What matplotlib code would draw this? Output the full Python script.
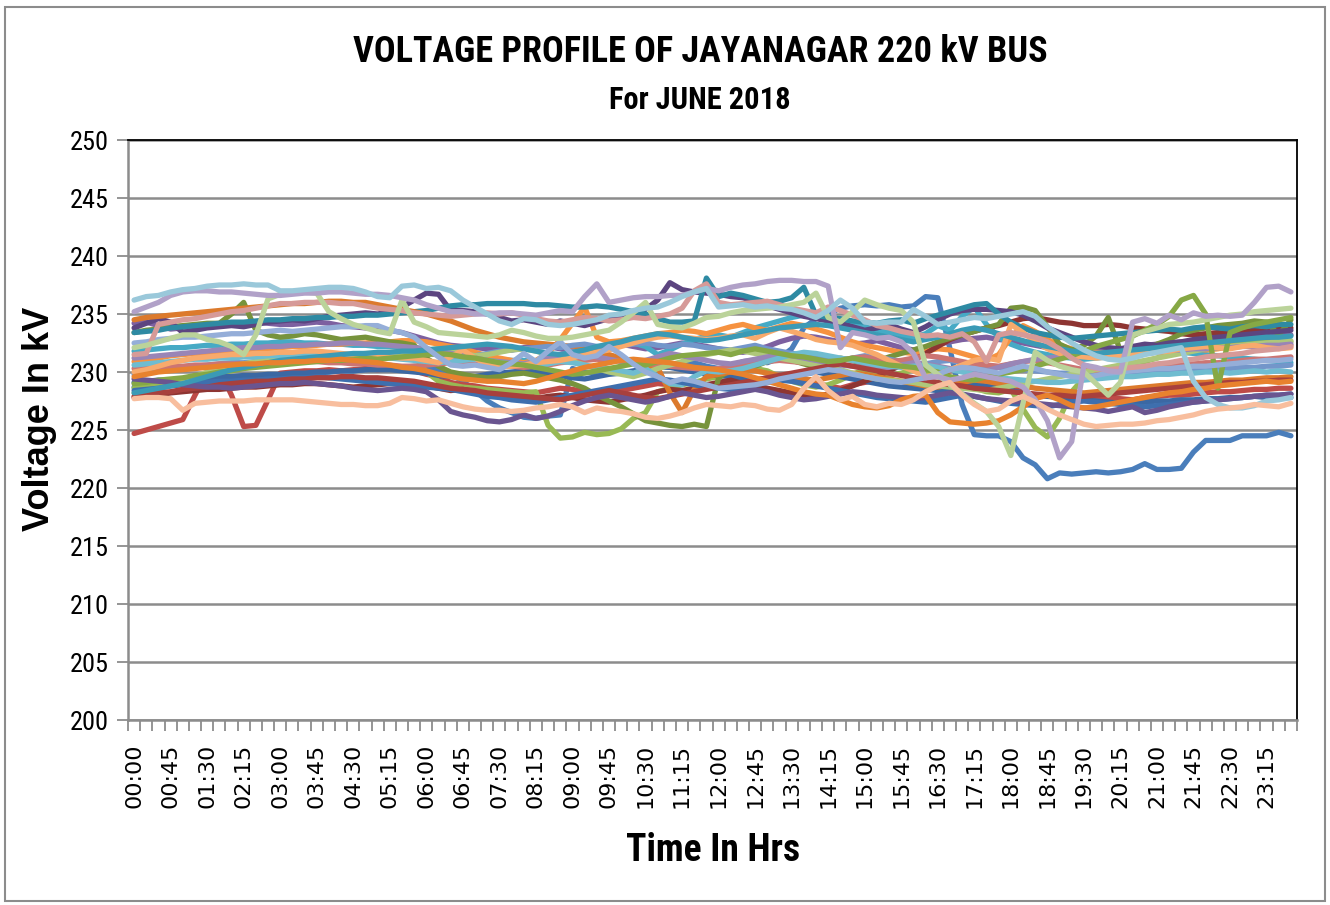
import matplotlib
matplotlib.use("Agg")
import matplotlib.pyplot as plt
from matplotlib import font_manager as fm
from matplotlib.patches import Rectangle
import numpy as np

# 96 quarter-hour slots, one line per day of June 2018 (kV)
times = [f"{h:02d}:{m:02d}" for h in range(24) for m in (0, 15, 30, 45)]

jun01 = [228.7, 228.8, 228.9, 229.0, 229.0, 229.1, 229.2, 229.3, 229.3, 229.4, 229.3, 229.4, 229.6, 229.7, 229.8, 229.9,
         230.0, 230.1, 230.1, 230.2, 230.3, 230.3, 230.4, 230.5, 230.5, 230.2, 229.8, 229.2, 228.4, 227.5, 226.9, 226.5,
         226.1, 226.0, 226.2, 226.3, 230.3, 230.0, 229.9, 230.1, 230.0, 229.8, 230.2, 230.5, 230.4, 230.6, 230.8, 230.5,
         230.3, 230.5, 230.9, 231.0, 230.8, 231.2, 232.0, 233.8, 234.6, 235.0, 235.5, 235.7, 235.8, 235.7, 235.8, 235.6,
         235.7, 236.5, 236.4, 232.0, 227.2, 224.6, 224.5, 224.5, 224.0, 222.6, 222.0, 220.8, 221.3, 221.2, 221.3, 221.4,
         221.3, 221.4, 221.6, 222.1, 221.6, 221.6, 221.7, 223.1, 224.1, 224.1, 224.1, 224.5, 224.5, 224.5, 224.8, 224.5]
jun02 = [224.7, 225.0, 225.3, 225.6, 225.9, 228.0, 230.0, 230.2, 228.0, 225.3, 225.4, 227.6, 229.9, 230.0, 230.1, 230.1,
         230.2, 230.1, 230.2, 230.3, 230.2, 230.3, 230.3, 230.1, 229.8, 229.6, 229.1, 228.9, 228.8, 228.6, 228.5, 228.4,
         228.3, 228.2, 228.4, 228.6, 228.5, 228.3, 228.1, 228.2, 228.4, 228.6, 228.8, 229.0, 228.9, 229.1, 229.0, 228.8,
         228.9, 229.2, 229.4, 229.3, 229.5, 229.7, 229.4, 229.2, 229.0, 228.8, 228.6, 228.9, 229.1, 229.3, 229.0, 228.8,
         229.0, 229.4, 229.8, 230.1, 230.3, 229.9, 229.5, 229.2, 228.7, 228.3, 228.0, 227.9, 228.1, 228.0, 227.9, 227.8,
         227.8, 227.7, 227.6, 227.8, 227.9, 228.0, 228.0, 228.1, 228.2, 228.3, 228.3, 228.4, 228.5, 228.5, 228.6, 228.6]
jun03 = [228.6, 228.8, 229.0, 229.2, 229.3, 229.6, 229.9, 230.1, 230.4, 230.6, 230.7, 230.8, 230.9, 231.0, 231.1, 231.2,
         231.3, 231.3, 231.4, 231.5, 231.5, 231.6, 231.5, 231.4, 230.0, 229.2, 228.9, 228.7, 228.6, 228.5, 228.4, 228.3,
         228.2, 228.3, 225.4, 224.3, 224.4, 224.8, 224.6, 224.7, 225.1, 226.0, 226.5, 228.3, 228.6, 228.9, 229.1, 229.4,
         229.6, 229.8, 229.9, 230.3, 230.1, 229.6, 229.2, 228.9, 228.7, 228.9, 229.3, 229.8, 230.2, 230.0, 229.7, 229.9,
         230.2, 229.9, 229.6, 229.2, 229.0, 228.6, 228.3, 228.2, 228.5, 226.8, 225.2, 224.4, 226.0, 228.3, 229.5, 229.8,
         230.0, 230.2, 230.5, 230.9, 231.2, 231.6, 232.0, 232.2, 232.4, 232.5, 232.6, 232.7, 232.8, 232.7, 232.8, 232.6]
jun04 = [234.2, 234.3, 234.0, 233.7, 233.8, 233.9, 234.0, 234.1, 234.2, 234.2, 234.3, 234.2, 234.1, 234.1, 234.2, 234.3,
         234.2, 234.0, 233.9, 233.8, 233.7, 233.6, 233.4, 233.1, 232.8, 232.5, 232.3, 232.2, 232.1, 232.0, 232.0, 231.9,
         232.1, 232.3, 232.2, 232.0, 231.8, 231.9, 232.1, 232.3, 232.4, 232.2, 232.0, 232.1, 232.3, 232.5, 232.4, 232.2,
         232.0, 231.8, 231.7, 231.9, 232.2, 232.6, 232.9, 233.1, 233.0, 232.8, 232.6, 232.4, 232.5, 232.7, 232.4, 232.1,
         231.9, 232.1, 232.4, 232.6, 232.8, 232.9, 233.0, 232.8, 232.7, 232.5, 232.3, 232.1, 231.9, 231.7, 231.6, 231.8,
         231.9, 232.0, 232.1, 232.3, 232.4, 232.5, 232.6, 232.6, 232.7, 232.8, 232.8, 232.9, 233.0, 233.0, 233.1, 233.2]
jun05 = [231.8, 231.9, 232.0, 232.1, 232.1, 232.2, 232.3, 232.3, 232.4, 232.4, 232.5, 232.5, 232.6, 232.6, 232.5, 232.5,
         232.4, 232.4, 232.3, 232.3, 232.2, 232.2, 232.1, 232.1, 232.0, 231.8, 231.6, 231.5, 231.3, 231.2, 231.1, 231.0,
         231.0, 230.9, 231.1, 231.3, 231.5, 231.7, 231.9, 232.1, 232.3, 232.5, 232.2, 231.5, 231.9, 232.4, 232.8, 233.1,
         233.2, 233.0, 233.4, 233.8, 234.1, 234.4, 234.7, 234.9, 235.0, 234.8, 234.5, 234.2, 233.9, 233.6, 233.4, 233.2,
         233.0, 233.3, 234.0, 233.6, 234.8, 235.6, 234.1, 233.0, 232.4, 232.0, 231.7, 231.5, 231.3, 231.2, 231.1, 231.2,
         231.3, 231.4, 231.5, 231.6, 231.7, 231.8, 231.7, 231.6, 231.5, 231.4, 231.3, 231.2, 231.1, 231.0, 230.9, 230.8]
jun06 = [230.9, 231.0, 231.2, 231.4, 231.5, 231.6, 231.6, 231.7, 231.8, 231.9, 232.0, 232.0, 232.1, 232.2, 232.2, 232.3,
         232.4, 232.4, 232.5, 232.5, 232.6, 232.6, 232.7, 232.7, 232.6, 232.4, 232.2, 232.0, 231.7, 231.4, 231.2, 231.0,
         230.8, 231.0, 231.6, 232.8, 234.2, 235.6, 233.0, 232.6, 232.7, 232.9, 233.1, 233.3, 233.4, 233.6, 233.5, 233.3,
         233.6, 233.9, 234.1, 233.8, 233.6, 233.9, 234.2, 234.0, 233.7, 233.4, 233.0, 232.6, 232.3, 232.1, 231.9, 231.7,
         231.6, 231.8, 232.0, 231.9, 231.6, 231.3, 231.0, 231.5, 233.0, 234.0, 233.5, 232.8, 232.3, 232.0, 231.8, 231.7,
         231.6, 231.6, 231.7, 231.8, 231.9, 232.0, 232.1, 232.0, 231.9, 232.0, 232.2, 232.3, 232.2, 232.0, 232.1, 232.3]
jun07 = [229.1, 229.2, 229.3, 229.3, 229.4, 229.5, 229.5, 229.6, 229.6, 229.7, 229.7, 229.8, 229.8, 229.9, 229.9, 230.0,
         230.0, 230.1, 230.1, 230.2, 230.2, 230.2, 230.1, 230.0, 229.9, 229.7, 229.6, 229.5, 229.6, 229.8, 229.9, 230.0,
         230.1, 230.0, 229.8, 229.7, 229.5, 229.4, 229.6, 229.8, 229.9, 230.1, 230.3, 230.5, 230.4, 230.2, 230.0, 229.8,
         229.7, 229.6, 229.4, 229.3, 229.2, 229.4, 229.6, 229.8, 230.0, 229.8, 229.6, 229.4, 229.2, 229.0, 228.8, 228.7,
         228.6, 228.5, 228.4, 228.5, 228.7, 228.9, 228.8, 228.6, 228.4, 228.2, 228.0, 227.9, 227.8, 227.7, 227.6, 227.5,
         227.4, 227.3, 227.3, 227.4, 227.5, 227.5, 227.6, 227.6, 227.7, 227.7, 227.8, 227.8, 227.9, 227.8, 227.8, 227.8]
jun08 = [227.8, 227.9, 228.0, 228.2, 228.3, 228.4, 228.5, 228.5, 228.6, 228.7, 228.7, 228.8, 228.9, 228.9, 229.0, 229.0,
         228.9, 228.8, 228.7, 228.8, 228.9, 229.0, 229.1, 229.0, 228.8, 228.6, 228.4, 228.5, 228.3, 228.1, 228.0, 227.9,
         227.8, 227.7, 227.9, 228.0, 227.8, 227.6, 227.5, 227.4, 227.6, 227.8, 228.0, 228.3, 228.5, 228.4, 228.6, 228.9,
         229.1, 229.3, 229.0, 228.8, 228.6, 228.4, 228.2, 228.0, 227.9, 228.1, 228.4, 228.8, 229.2, 229.6, 230.1, 230.6,
         231.0, 231.6, 232.2, 232.8, 233.2, 233.5, 233.8, 234.0, 234.3, 234.6, 234.7, 234.5, 234.3, 234.2, 234.0, 234.0,
         234.1, 234.0, 233.8, 233.7, 233.6, 233.5, 233.3, 233.2, 233.3, 233.4, 233.3, 233.5, 233.6, 233.5, 233.7, 233.8]
jun09 = [233.4, 233.6, 233.7, 233.9, 234.0, 234.1, 234.2, 234.2, 235.0, 236.0, 233.6, 233.2, 233.0, 233.1, 233.3, 233.2,
         233.0, 232.8, 232.9, 233.0, 232.8, 232.6, 232.5, 232.3, 231.2, 230.5, 230.0, 229.8, 229.6, 229.5, 229.6, 229.8,
         229.9, 229.7, 229.5, 229.3, 229.0, 228.6, 228.0, 227.5, 227.0, 226.4, 225.8, 225.6, 225.4, 225.3, 225.5, 225.3,
         229.5, 230.2, 230.6, 230.5, 230.9, 231.3, 231.0, 230.7, 230.4, 230.8, 231.2, 231.0, 230.6, 230.9, 231.3, 231.6,
         231.9, 232.2, 232.6, 232.9, 233.2, 233.5, 233.8, 234.1, 235.5, 235.6, 235.3, 233.9, 232.4, 231.9, 232.3, 233.1,
         234.7, 231.8, 231.5, 231.9, 232.4, 232.8, 233.3, 233.6, 233.8, 234.0, 234.1, 234.2, 234.4, 234.3, 233.2, 234.5]
jun10 = [233.8, 234.2, 234.6, 234.3, 233.4, 233.6, 233.8, 233.9, 234.0, 233.9, 234.1, 234.3, 234.4, 234.5, 234.4, 234.6,
         234.8, 234.9, 235.0, 235.1, 235.0, 235.2, 235.6, 236.2, 236.8, 236.7, 235.3, 235.3, 235.2, 235.0, 234.7, 234.4,
         234.5, 234.3, 234.1, 234.4, 234.2, 234.0, 234.3, 234.6, 234.8, 235.1, 235.4, 236.2, 237.7, 237.1, 236.9, 236.8,
         236.7, 236.5, 236.4, 236.1, 235.7, 235.4, 235.1, 234.8, 234.6, 234.4, 234.2, 233.9, 233.6, 233.8, 234.1, 233.7,
         233.4, 233.9, 234.5, 235.0, 235.3, 235.4, 235.4, 235.3, 235.2, 234.9, 234.4, 233.8, 233.4, 233.0, 232.6, 232.3,
         232.1, 232.0, 232.2, 232.4, 232.3, 232.5, 232.6, 232.8, 232.9, 233.0, 233.1, 233.2, 233.3, 233.4, 233.5, 233.6]
jun11 = [233.4, 233.5, 233.6, 233.8, 233.9, 234.0, 234.1, 234.2, 234.3, 234.3, 234.4, 234.5, 234.5, 234.6, 234.6, 234.7,
         234.7, 234.8, 234.8, 234.9, 234.9, 235.0, 235.1, 235.2, 235.3, 235.5, 235.7, 235.8, 235.8, 235.9, 235.9, 235.9,
         235.9, 235.8, 235.8, 235.7, 235.6, 235.6, 235.7, 235.6, 235.4, 235.2, 235.0, 234.6, 234.3, 234.3, 234.4, 238.1,
         236.5, 236.8, 236.6, 236.3, 236.0, 236.1, 236.4, 237.3, 234.9, 234.7, 234.6, 234.4, 234.3, 234.2, 234.4, 234.5,
         234.2, 234.6, 234.9, 235.2, 235.5, 235.8, 235.9, 235.0, 234.3, 233.8, 233.4, 233.2, 233.0, 232.9, 233.0, 233.1,
         233.2, 233.3, 233.4, 233.5, 233.6, 233.7, 233.6, 233.8, 233.9, 233.8, 233.7, 233.9, 234.0, 233.9, 234.1, 234.1]
jun12 = [234.5, 234.7, 234.8, 234.9, 235.0, 235.1, 235.2, 235.3, 235.4, 235.5, 235.6, 235.7, 235.8, 235.9, 235.9, 236.0,
         236.1, 236.1, 236.0, 236.0, 235.8, 235.6, 235.4, 235.2, 235.0, 234.7, 234.4, 234.0, 233.6, 233.3, 233.0, 232.8,
         232.6, 232.5, 232.4, 232.3, 232.2, 232.0, 231.7, 231.5, 231.2, 230.9, 230.6, 230.4, 228.2, 226.5, 228.5, 229.6,
         229.8, 230.0, 230.2, 230.1, 229.9, 229.7, 229.5, 229.4, 229.3, 229.5, 229.7, 229.9, 229.8, 229.6, 229.4, 229.2,
         229.0, 228.8, 228.7, 228.9, 229.1, 229.3, 229.2, 229.0, 228.9, 228.8, 228.6, 228.5, 228.4, 228.3, 228.2, 228.3,
         228.4, 228.5, 228.6, 228.7, 228.8, 228.9, 229.0, 229.1, 229.1, 229.2, 229.3, 229.3, 229.4, 229.5, 229.5, 229.6]
jun13 = [229.8, 229.9, 230.1, 230.2, 230.4, 230.5, 230.6, 230.7, 230.8, 230.8, 230.9, 231.0, 231.0, 231.1, 231.2, 231.2,
         231.3, 231.3, 231.4, 231.4, 231.5, 231.5, 231.4, 231.5, 231.6, 231.5, 231.3, 231.2, 231.4, 231.6, 231.8, 231.9,
         232.0, 232.1, 232.2, 232.1, 232.3, 232.4, 232.2, 232.1, 232.3, 232.4, 232.5, 232.3, 232.2, 232.4, 232.3, 232.1,
         232.0, 231.9, 232.1, 232.3, 232.0, 231.8, 231.6, 231.5, 231.3, 231.2, 231.0, 231.2, 231.4, 231.3, 231.1, 230.9,
         230.8, 230.7, 230.9, 231.0, 230.8, 230.6, 230.5, 230.4, 230.3, 230.2, 230.1, 230.0, 229.9, 229.9, 230.0, 230.0,
         229.9, 229.8, 229.9, 230.0, 230.0, 230.1, 230.1, 230.2, 230.2, 230.3, 230.3, 230.4, 230.4, 230.5, 230.5, 230.6]
jun14 = [230.3, 230.4, 230.4, 230.5, 230.5, 230.6, 230.6, 230.7, 230.7, 230.7, 230.8, 230.8, 230.8, 230.9, 230.9, 230.9,
         230.8, 230.8, 230.7, 230.7, 230.6, 230.6, 230.5, 230.5, 230.6, 230.7, 230.8, 230.9, 230.8, 230.7, 230.6, 230.5,
         230.4, 230.5, 230.6, 230.8, 230.9, 231.0, 231.1, 231.0, 231.0, 230.9, 230.8, 230.6, 230.5, 230.4, 230.3, 230.2,
         230.3, 230.4, 230.5, 230.7, 230.9, 231.0, 230.9, 230.8, 230.7, 230.8, 231.0, 231.2, 231.3, 231.1, 230.9, 231.0,
         231.2, 231.4, 231.3, 231.1, 230.9, 230.7, 230.6, 230.5, 230.7, 230.9, 231.0, 230.8, 230.6, 230.4, 230.2, 230.1,
         230.0, 230.1, 230.2, 230.3, 230.4, 230.5, 230.6, 230.7, 230.8, 230.8, 230.9, 231.0, 231.1, 231.1, 231.2, 231.3]
jun15 = [228.2, 228.4, 228.6, 228.9, 229.2, 229.6, 230.0, 230.3, 230.5, 230.7, 230.9, 231.0, 231.1, 231.2, 231.3, 231.3,
         231.4, 231.5, 231.5, 231.6, 231.6, 231.7, 231.7, 231.8, 231.9, 232.0, 231.8, 231.6, 231.4, 231.5, 231.7, 231.9,
         232.0, 231.8, 231.5, 231.2, 230.9, 230.6, 230.3, 230.0, 229.8, 229.6, 229.9, 230.3, 230.6, 230.9, 231.2, 231.5,
         231.7, 231.9, 231.8, 231.6, 231.4, 231.2, 231.0, 230.8, 230.6, 230.4, 230.2, 229.9, 229.6, 229.4, 229.3, 229.2,
         229.1, 228.9, 228.8, 228.7, 228.6, 228.5, 228.4, 228.6, 228.8, 229.0, 229.2, 229.4, 229.6, 229.8, 230.0, 230.2,
         230.4, 230.6, 230.8, 231.0, 231.2, 231.4, 231.6, 231.8, 232.0, 232.1, 232.2, 232.3, 232.4, 232.5, 232.6, 232.7]
jun16 = [231.2, 231.3, 231.4, 231.5, 231.6, 231.7, 231.8, 231.9, 232.0, 232.1, 232.1, 232.2, 232.2, 232.3, 232.3, 232.4,
         232.4, 232.5, 232.5, 232.4, 232.4, 232.3, 232.2, 232.1, 232.0, 231.8, 231.6, 231.4, 231.2, 231.0, 230.9, 230.8,
         230.7, 230.9, 231.2, 231.5, 231.8, 231.6, 231.3, 231.1, 230.9, 230.8, 231.0, 231.3, 231.6, 231.4, 231.2, 231.0,
         230.8, 230.7, 230.9, 231.1, 231.3, 231.5, 231.4, 231.2, 231.0, 230.8, 230.6, 230.5, 230.4, 230.3, 230.4, 230.6,
         230.8, 230.7, 230.5, 230.3, 230.1, 229.9, 230.1, 230.4, 230.7, 230.9, 231.1, 231.2, 231.3, 231.4, 231.5, 231.6,
         231.6, 231.7, 231.7, 231.8, 231.8, 231.9, 231.9, 232.0, 232.0, 232.1, 232.1, 232.2, 232.2, 232.3, 232.3, 232.4]
jun17 = [230.6, 230.7, 230.8, 230.9, 231.0, 231.1, 231.1, 231.2, 231.2, 231.3, 231.3, 231.4, 231.4, 231.4, 231.5, 231.5,
         231.4, 231.4, 231.3, 231.3, 231.2, 231.2, 231.1, 231.0, 230.9, 230.8, 230.9, 231.0, 231.1, 231.0, 230.8, 230.7,
         230.6, 230.5, 230.7, 230.9, 230.8, 230.6, 230.4, 230.3, 230.1, 229.9, 230.3, 229.6, 229.0, 228.9, 229.6, 230.1,
         230.0, 230.1, 230.3, 230.6, 230.9, 231.2, 231.5, 231.7, 231.6, 231.4, 231.2, 231.0, 230.8, 230.6, 230.5, 230.4,
         230.5, 230.6, 230.4, 230.2, 230.0, 229.8, 229.6, 229.5, 229.4, 229.3, 229.2, 229.1, 229.1, 229.2, 229.3, 229.4,
         229.5, 229.6, 229.6, 229.7, 229.8, 229.8, 229.9, 229.9, 230.0, 230.0, 229.9, 230.0, 230.1, 230.0, 230.1, 230.0]
jun18 = [230.0, 230.2, 230.5, 230.8, 231.0, 231.2, 231.3, 231.4, 231.5, 231.5, 231.6, 231.6, 231.7, 231.7, 231.8, 231.8,
         231.7, 231.6, 231.5, 231.4, 231.4, 231.3, 231.2, 231.2, 231.0, 230.8, 231.3, 231.9, 231.2, 230.6, 230.4, 230.5,
         230.6, 230.8, 230.9, 231.0, 231.2, 231.5, 231.7, 231.9, 232.2, 232.5, 232.8, 233.0, 233.1, 233.0, 232.9, 232.8,
         232.9, 233.1, 233.2, 232.9, 233.4, 233.8, 233.5, 233.2, 232.8, 232.6, 232.5, 232.3, 231.9, 231.5, 231.0, 230.5,
         230.1, 229.6, 229.8, 230.2, 230.6, 231.0, 231.2, 231.0, 234.1, 233.4, 232.6, 232.0, 231.6, 231.4, 231.3, 231.2,
         231.3, 231.4, 231.5, 231.6, 231.7, 231.8, 232.0, 232.1, 232.2, 232.1, 232.0, 232.2, 232.3, 232.1, 232.0, 232.1]
jun19 = [228.4, 228.5, 228.6, 228.8, 228.9, 229.0, 229.1, 229.2, 229.2, 229.3, 229.3, 229.4, 229.4, 229.5, 229.5, 229.6,
         229.5, 229.4, 229.3, 229.2, 229.1, 229.0, 228.9, 228.8, 228.7, 228.6, 228.5, 228.3, 228.1, 227.9, 227.8, 227.6,
         227.5, 227.4, 227.6, 227.8, 228.0, 228.2, 228.4, 228.6, 228.8, 229.0, 229.2, 229.4, 229.3, 229.1, 228.9, 228.7,
         228.6, 228.5, 228.7, 228.9, 229.1, 229.3, 229.2, 229.0, 228.8, 228.6, 228.4, 228.2, 228.0, 227.8, 227.7, 227.6,
         227.5, 227.4, 227.6, 227.8, 228.0, 227.9, 227.7, 227.5, 227.3, 227.2, 227.1, 227.0, 227.2, 227.4, 227.5, 227.4,
         227.3, 227.2, 227.1, 227.0, 227.1, 227.2, 227.3, 227.4, 227.5, 227.6, 227.7, 227.8, 227.9, 228.0, 228.0, 228.1]
jun20 = [227.9, 228.0, 228.2, 228.3, 228.5, 228.6, 228.7, 228.9, 229.0, 229.1, 229.2, 229.2, 229.3, 229.4, 229.4, 229.5,
         229.5, 229.6, 229.6, 229.5, 229.5, 229.4, 229.3, 229.2, 229.0, 228.8, 228.6, 228.5, 228.4, 228.2, 228.1, 228.0,
         227.9, 227.8, 227.7, 227.6, 227.8, 228.0, 228.2, 228.4, 228.2, 228.0, 227.8, 227.7, 227.9, 228.1, 228.3, 228.5,
         228.7, 228.9, 229.1, 229.3, 229.5, 229.7, 229.9, 230.1, 230.3, 230.5, 230.7, 230.5, 230.3, 230.1, 229.9, 229.7,
         229.5, 229.3, 229.1, 228.9, 228.8, 228.6, 228.5, 228.4, 228.3, 228.2, 228.1, 228.0, 228.0, 227.9, 227.9, 228.0,
         228.1, 228.2, 228.3, 228.4, 228.5, 228.6, 228.7, 228.8, 228.9, 229.0, 229.1, 229.1, 229.2, 229.2, 229.3, 229.3]
jun21 = [229.0, 229.1, 229.3, 229.4, 229.5, 229.7, 229.8, 230.0, 230.1, 230.3, 230.4, 230.5, 230.6, 230.7, 230.8, 230.9,
         231.0, 231.0, 231.1, 231.2, 231.1, 231.2, 231.3, 231.4, 231.5, 231.6, 231.5, 231.3, 231.2, 231.0, 230.8, 230.7,
         230.6, 230.4, 230.2, 230.0, 229.8, 229.9, 230.1, 230.3, 230.5, 230.7, 230.6, 230.9, 231.2, 231.4, 231.5, 231.6,
         231.7, 231.5, 231.8, 232.0, 231.8, 231.6, 231.4, 231.3, 231.1, 230.9, 231.0, 231.2, 231.0, 230.8, 230.6, 230.5,
         230.4, 230.2, 230.0, 229.6, 229.4, 229.3, 229.6, 229.8, 230.0, 230.2, 230.5, 230.8, 231.1, 231.4, 231.8, 232.2,
         232.5, 232.8, 233.1, 233.6, 234.1, 234.8, 236.2, 236.6, 235.0, 228.6, 233.4, 233.8, 234.1, 234.3, 234.5, 234.7]
jun22 = [229.4, 229.3, 229.2, 229.1, 228.9, 228.8, 228.7, 228.7, 228.6, 228.7, 228.8, 228.9, 229.0, 229.0, 229.1, 229.0,
         228.9, 228.8, 228.6, 228.5, 228.4, 228.5, 228.6, 228.5, 228.3, 227.6, 226.6, 226.3, 226.1, 225.8, 225.7, 225.9,
         226.3, 226.0, 226.2, 226.6, 227.1, 227.5, 227.8, 228.0, 227.8, 227.6, 227.4, 227.6, 227.9, 228.2, 228.0, 227.8,
         227.9, 228.1, 228.3, 228.5, 228.3, 228.0, 227.8, 227.6, 227.7, 227.9, 228.1, 228.3, 228.2, 228.0, 227.9, 227.8,
         227.7, 227.8, 228.0, 228.2, 228.1, 227.9, 227.7, 227.6, 227.5, 227.4, 227.3, 227.2, 227.1, 227.0, 226.9, 226.8,
         226.6, 226.8, 227.0, 226.5, 226.7, 227.0, 227.2, 227.4, 227.5, 227.6, 227.7, 227.8, 227.9, 228.0, 228.0, 228.1]
jun23 = [228.2, 228.4, 228.6, 228.8, 229.0, 229.3, 229.6, 229.9, 230.2, 230.4, 230.6, 230.8, 231.0, 231.1, 231.2, 231.3,
         231.4, 231.5, 231.6, 231.6, 231.7, 231.7, 231.8, 231.8, 231.9, 232.0, 232.1, 232.2, 232.3, 232.4, 232.3, 232.2,
         232.0, 231.8, 231.6, 231.5, 231.7, 231.9, 232.2, 232.4, 232.6, 232.9, 233.1, 233.3, 233.2, 233.0, 232.8, 232.7,
         232.8, 233.0, 233.2, 233.4, 233.6, 233.8, 233.9, 234.0, 234.1, 234.0, 233.8, 233.6, 233.4, 233.2, 233.0, 232.8,
         232.6, 232.8, 233.0, 233.3, 233.6, 233.8, 233.6, 233.3, 233.0, 232.7, 232.4, 232.2, 232.0, 231.8, 231.7, 231.6,
         231.7, 231.8, 231.9, 232.0, 232.1, 232.2, 232.3, 232.4, 232.5, 232.6, 232.7, 232.8, 232.9, 233.0, 233.0, 233.1]
jun24 = [229.6, 229.8, 230.0, 230.1, 230.2, 230.3, 230.4, 230.5, 230.6, 230.7, 230.7, 230.8, 230.8, 230.9, 230.9, 231.0,
         231.0, 231.1, 231.0, 230.9, 230.8, 230.6, 230.4, 230.3, 230.1, 229.8, 229.6, 229.4, 229.3, 229.2, 229.2, 229.1,
         229.0, 229.2, 229.5, 229.8, 230.1, 230.4, 230.6, 230.8, 231.0, 231.1, 231.0, 230.9, 230.8, 230.6, 230.4, 230.3,
         230.2, 230.0, 229.8, 229.5, 229.2, 228.9, 228.6, 228.3, 228.1, 228.0, 227.6, 227.2, 227.0, 226.9, 227.1, 227.6,
         227.9, 228.0, 226.5, 225.7, 225.6, 225.5, 225.6, 225.8, 226.3, 227.0, 227.7, 228.0, 227.6, 227.1, 226.9, 227.0,
         227.2, 227.4, 227.6, 227.8, 228.0, 228.2, 228.3, 228.5, 228.6, 228.8, 228.9, 229.0, 229.1, 229.2, 229.1, 229.2]
jun25 = [232.5, 232.6, 232.8, 232.9, 233.0, 233.0, 233.1, 233.2, 233.3, 233.3, 233.4, 233.5, 233.6, 233.5, 233.6, 233.7,
         233.8, 233.9, 233.9, 234.0, 234.0, 233.6, 233.4, 233.0, 232.1, 231.3, 230.6, 230.5, 230.6, 230.4, 230.2, 230.8,
         231.6, 230.9, 231.8, 232.6, 231.5, 231.2, 231.4, 232.2, 231.5, 230.7, 230.0, 229.6, 229.1, 229.4, 229.2, 228.9,
         228.6, 228.7, 228.8, 228.9, 229.1, 229.4, 229.6, 229.8, 230.0, 230.2, 230.1, 229.8, 229.6, 229.4, 229.2, 229.1,
         229.3, 229.5, 229.8, 230.2, 230.4, 230.3, 230.1, 229.9, 230.2, 230.5, 230.3, 230.0, 229.8, 229.6, 229.5, 229.7,
         229.9, 230.0, 230.1, 230.2, 230.3, 230.3, 230.4, 230.5, 230.5, 230.6, 230.7, 230.8, 230.9, 231.0, 231.0, 231.1]
jun26 = [231.5, 231.6, 234.1, 234.3, 234.5, 234.6, 234.8, 235.0, 235.2, 235.3, 235.5, 235.7, 235.9, 235.9, 236.0, 236.0,
         236.0, 235.9, 235.9, 235.7, 235.5, 235.4, 235.3, 235.1, 235.0, 234.9, 234.8, 234.9, 235.0, 235.1, 235.0, 235.1,
         234.9, 234.6, 234.4, 234.3, 234.5, 234.7, 234.6, 234.4, 234.5, 234.7, 234.6, 234.8, 235.0, 235.5, 237.0, 237.6,
         236.0, 235.8, 235.9, 236.0, 236.1, 235.8, 235.5, 235.3, 235.1, 235.6, 235.3, 234.9, 234.5, 234.0, 233.8, 233.5,
         233.3, 233.1, 233.2, 233.0, 233.3, 232.6, 230.9, 233.2, 233.4, 233.2, 233.0, 232.6, 232.0, 231.2, 230.6, 230.3,
         230.2, 230.3, 230.4, 230.5, 230.7, 230.8, 231.0, 231.1, 231.3, 231.4, 231.5, 231.6, 231.8, 231.9, 232.0, 232.2]
jun27 = [232.1, 232.3, 232.6, 232.9, 233.2, 233.2, 232.8, 232.6, 232.2, 231.5, 233.2, 236.3, 236.7, 236.9, 236.9, 236.8,
         235.2, 234.6, 234.1, 233.8, 233.5, 233.3, 236.2, 234.3, 233.9, 233.4, 233.3, 233.2, 233.1, 233.0, 233.2, 233.6,
         233.4, 233.1, 232.9, 232.9, 233.0, 233.2, 233.4, 233.6, 234.3, 235.1, 236.0, 234.1, 233.9, 233.8, 234.2, 234.7,
         234.8, 235.1, 235.3, 235.4, 235.5, 235.6, 235.8, 236.0, 236.8, 234.7, 234.3, 235.2, 236.2, 235.8, 235.5, 235.3,
         234.3, 230.6, 229.8, 228.9, 228.1, 227.3, 226.6, 225.3, 222.8, 227.3, 231.7, 231.0, 230.5, 230.2, 230.0, 229.0,
         228.0, 229.1, 233.2, 233.5, 233.8, 234.1, 234.2, 234.3, 234.5, 234.7, 234.9, 235.0, 235.2, 235.3, 235.4, 235.5]
jun28 = [235.2, 235.6, 236.0, 236.6, 236.9, 237.0, 237.0, 236.9, 236.9, 236.8, 236.7, 236.6, 236.6, 236.7, 236.8, 236.8,
         236.9, 236.9, 236.8, 236.7, 236.7, 236.6, 236.4, 236.2, 235.8, 235.5, 235.2, 235.2, 235.0, 235.0, 235.1, 235.1,
         235.0, 234.9, 235.1, 235.3, 235.2, 236.5, 237.6, 236.0, 236.2, 236.4, 236.5, 236.5, 236.6, 236.6, 236.9, 237.2,
         237.0, 237.3, 237.5, 237.6, 237.8, 237.9, 237.9, 237.8, 237.8, 237.4, 232.1, 233.4, 233.2, 232.9, 233.0, 232.6,
         231.6, 229.5, 229.6, 229.3, 229.5, 229.8, 229.6, 229.4, 229.2, 228.7, 227.6, 225.8, 222.6, 224.0, 230.6, 230.4,
         230.1, 230.0, 234.3, 234.6, 234.2, 234.9, 234.5, 235.1, 234.8, 234.9, 234.8, 234.9, 236.0, 237.3, 237.4, 236.9]
jun29 = [236.2, 236.5, 236.6, 236.9, 237.1, 237.2, 237.4, 237.5, 237.5, 237.6, 237.5, 237.5, 237.0, 237.0, 237.1, 237.2,
         237.3, 237.3, 237.2, 236.9, 236.5, 236.4, 237.4, 237.5, 237.2, 237.3, 237.0, 236.2, 235.6, 235.0, 234.4, 234.1,
         234.6, 234.5, 234.1, 234.0, 234.1, 234.3, 234.5, 234.9, 235.0, 235.3, 235.5, 235.6, 236.0, 236.5, 236.9, 237.2,
         235.6, 235.7, 235.8, 235.6, 235.7, 235.5, 235.4, 235.1, 234.7, 235.3, 236.2, 235.5, 234.3, 234.2, 234.3, 234.3,
         235.4, 234.8, 234.1, 234.3, 234.5, 234.7, 234.6, 234.8, 235.0, 235.2, 234.8, 233.9, 233.2, 232.5, 231.9, 231.4,
         231.1, 231.0, 231.2, 231.5, 231.7, 231.9, 232.1, 229.2, 227.8, 227.2, 226.9, 226.9, 227.1, 227.5, 227.6, 227.8]
jun30 = [227.7, 227.8, 227.8, 227.7, 226.7, 227.3, 227.4, 227.5, 227.5, 227.5, 227.6, 227.6, 227.6, 227.6, 227.5, 227.4,
         227.3, 227.2, 227.2, 227.1, 227.1, 227.3, 227.8, 227.7, 227.5, 227.6, 227.3, 227.0, 226.8, 226.7, 226.7, 226.6,
         226.7, 226.9, 227.0, 227.2, 227.0, 226.5, 226.9, 226.7, 226.6, 226.4, 226.1, 226.0, 226.2, 226.5, 226.9, 227.2,
         227.1, 227.0, 227.2, 227.1, 226.8, 226.7, 227.2, 228.6, 229.6, 228.4, 227.6, 227.9, 227.2, 227.0, 227.3, 227.2,
         227.6, 228.3, 228.8, 229.1, 228.0, 227.2, 226.6, 226.8, 227.5, 227.9, 227.4, 226.8, 226.3, 225.9, 225.5, 225.3,
         225.4, 225.5, 225.5, 225.6, 225.8, 225.9, 226.1, 226.3, 226.6, 226.8, 226.9, 227.0, 227.2, 227.1, 227.0, 227.3]

days = [jun01, jun02, jun03, jun04, jun05, jun06, jun07, jun08, jun09, jun10,
        jun11, jun12, jun13, jun14, jun15, jun16, jun17, jun18, jun19, jun20,
        jun21, jun22, jun23, jun24, jun25, jun26, jun27, jun28, jun29, jun30]
assert all(len(d) == 96 for d in days)

# Excel-like series colours, one per day
colors = ["#4A7EBB", "#BE4B48", "#98B954", "#7D60A0", "#46AAC5", "#F69240",
          "#3B68A3", "#8E3532", "#77933C", "#5C4580", "#2E8AA3", "#DC7A2C",
          "#7396CA", "#CC7573", "#AEC77B", "#9985B6", "#6FBCD0", "#F8AA6C",
          "#3E6FAE", "#A8403D", "#86A845", "#6A5590", "#3B9AB5", "#E8822E",
          "#95AED8", "#D69A98", "#BBD39A", "#B1A1C8", "#9AC8DA", "#F8BE9E"]


def pick_font(names):
    for n in names:
        try:
            fm.findfont(fm.FontProperties(family=n), fallback_to_default=False)
            return n
        except ValueError:
            continue
    return "DejaVu Sans"


narrow = pick_font(["Liberation Sans Narrow", "DejaVu Sans Condensed", "Roboto Condensed", "Lato"])
arial = pick_font(["Liberation Sans", "Arial", "DejaVu Sans"])

fig = plt.figure(figsize=(13.3, 9.05), dpi=100)
fig.patches.append(Rectangle((0.004, 0.004), 0.992, 0.988, transform=fig.transFigure,
                             fill=False, edgecolor="#8C8C8C", linewidth=1.5))

ax = fig.add_axes([128 / 1330, 1 - 720 / 905, (1297 - 128) / 1330, (720 - 140) / 905])

x = np.arange(96) + 0.5
for vals, c in zip(days, colors):
    ax.plot(x, vals, color=c, linewidth=3.8, solid_joinstyle="round", solid_capstyle="round")

ax.set_xlim(0, 96)
ax.set_ylim(200, 250)
ax.set_yticks(np.arange(200, 251, 5))
ax.yaxis.grid(True, color="#8C8C8C", linewidth=1.8)
ax.set_axisbelow(True)

# category labels every third slot, small ticks between every category
ax.set_xticks(x[::3])
ax.set_xticklabels(times[::3], rotation=90, fontsize=16, family="DejaVu Sans")
ax.set_xticks(np.arange(97), minor=True)
ax.tick_params(axis="x", which="major", length=0, pad=17)
ax.tick_params(axis="x", which="minor", length=8, width=1.3, color="#8C8C8C", direction="out")
ax.tick_params(axis="y", length=8, width=1.3, color="#8C8C8C", pad=6)
for lab in ax.get_yticklabels():
    lab.set_family(narrow)
    lab.set_fontsize(19)

for side in ("left", "bottom"):
    ax.spines[side].set_color("#8C8C8C")
    ax.spines[side].set_linewidth(1.8)
for side in ("top", "right"):
    ax.spines[side].set_color("black")
    ax.spines[side].set_linewidth(1.3)

fig.text(700 / 1330, 1 - 52 / 905, "VOLTAGE PROFILE OF JAYANAGAR 220 kV BUS", ha="center", va="center",
         fontsize=26, fontweight="bold", family=narrow)
fig.text(700 / 1330, 1 - 100 / 905, "For JUNE 2018", ha="center", va="center",
         fontsize=22, fontweight="bold", family=narrow)
fig.text(713 / 1330, 1 - 850 / 905, "Time In Hrs", ha="center", va="center",
         fontsize=27, fontweight="bold", family=narrow)
fig.text(40 / 1330, 1 - 419 / 905, "Voltage In kV", ha="center", va="center", rotation=90,
         fontsize=26, fontweight="bold", family=arial)

fig.savefig("out.png", dpi=100)
